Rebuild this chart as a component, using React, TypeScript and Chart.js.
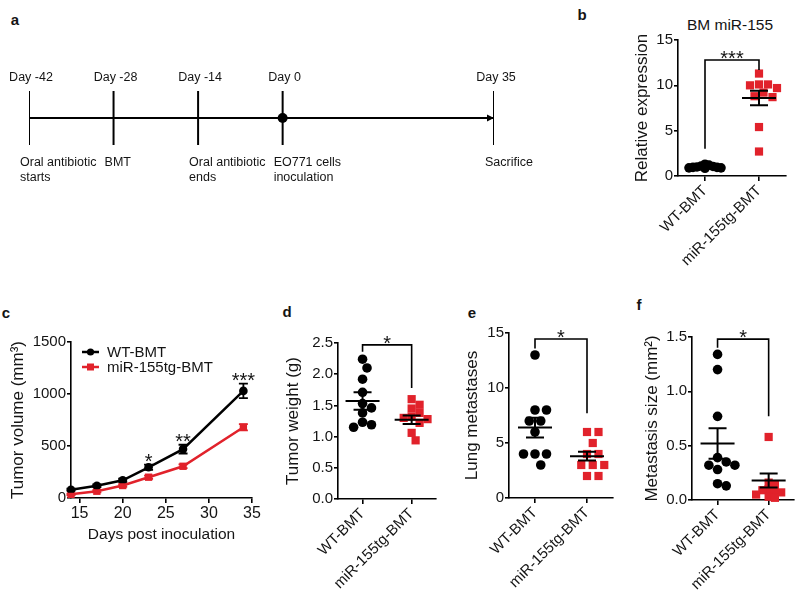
import React, { useEffect, useRef } from 'react';
import { Chart, registerables } from 'chart.js';

Chart.register(...registerables);

const FONT = '"Liberation Sans", Arial, Helvetica, sans-serif';
const RED = '#e1222b';
const INK = '#141414';

// ---------- data ----------
const groups = ['WT-BMT', 'miR-155tg-BMT'];

// panel a: timeline
const timelineDays = [-42, -28, -14, 0, 35];
const timelineTop = ['Day -42', 'Day -28', 'Day -14', 'Day 0', 'Day 35'];
const timelineBottom = [
  ['Oral antibiotic', 'starts'],
  ['BMT'],
  ['Oral antibiotic', 'ends'],
  ['EO771 cells', 'inoculation'],
  ['Sacrifice'],
];
const highlightDay = 0;

// panel b: BM miR-155 relative expression
const bmWT = [0.85, 0.9, 0.95, 1.0, 1.05, 1.1, 1.2, 1.3, 0.9, 0.95];
const bmTG = [11.3, 10.1, 10.1, 10.0, 9.7, 9.2, 8.8, 8.7, 5.4, 2.7];
const bmMean = [1.0, 8.6];
const bmSem = [0.05, 0.8];
const bmBracket = [12.8, 3.0, 11.7];
const bmSig = '***';

// panel c: tumor volume
const days = [14, 17, 20, 23, 27, 34];
const dayTicks = [15, 20, 25, 30, 35];
const volWT = [80, 118, 170, 295, 470, 1030];
const volWTErr = [10, 12, 15, 25, 42, 70];
const volTG = [35, 65, 120, 200, 305, 680];
const volTGErr = [8, 10, 12, 15, 18, 30];
const volSig = ['', '', '', '*', '**', '***'];

// panel d: tumor weight
const twWT = [2.24, 2.1, 1.92, 1.71, 1.53, 1.46, 1.38, 1.23, 1.19, 1.15];
const twTG = [1.6, 1.51, 1.45, 1.38, 1.32, 1.3, 1.28, 1.22, 1.06, 0.94];
const twMean = [1.57, 1.27];
const twSem = [0.14, 0.07];
const twBracket = [2.47, 2.36, 1.78];
const twSig = '*';

// panel e: lung metastases
const lmWT = [13, 8, 8, 7, 7, 6, 4, 4, 4, 3];
const lmTG = [6, 6, 5, 4, 4, 3, 3, 3, 2, 2];
const lmMean = [6.4, 3.8];
const lmSem = [0.9, 0.4];
const lmBracket = [14.45, 13.6, 7.7];
const lmSig = '*';

// panel f: metastasis size
const msWT = [1.34, 1.2, 0.77, 0.39, 0.32, 0.32, 0.35, 0.28, 0.15, 0.13];
const msTG = [0.58, 0.16, 0.14, 0.1, 0.09, 0.08, 0.07, 0.05, 0.03, 0.02];
const msMean = [0.52, 0.18];
const msSem = [0.14, 0.065];
const msBracket = [1.48, 1.4, 0.77];
const msSig = '*';

// ---------- helpers ----------
function swarm(vals: number[], pxPerY: number, pxPerX: number, d: number): number[] {
  const idx = vals.map((_, i) => i).sort((a, b) => vals[b] - vals[a]);
  const placed: [number, number][] = [];
  const out = vals.map(() => 0);
  for (const i of idx) {
    const py = vals[i] * pxPerY;
    for (let k = 0; k < 80; k++) {
      const px = (k % 2 ? 1 : -1) * Math.ceil(k / 2) * d * 0.5;
      if (placed.every(([qx, qy]) => Math.hypot(qx - px, qy - py) >= d)) {
        placed.push([px, py]);
        out[i] = px / pxPerX;
        break;
      }
    }
  }
  return out;
}

type Box = { left: number; top: number; width: number; height: number };

function ChartBox({ box, make }: { box: Box; make: (c: HTMLCanvasElement) => Chart }) {
  const ref = useRef<HTMLCanvasElement>(null);
  useEffect(() => {
    const c = make(ref.current as HTMLCanvasElement);
    return () => c.destroy();
  }, []);
  return (
    <div style={{ position: 'absolute', left: box.left, top: box.top, width: box.width, height: box.height }}>
      <canvas ref={ref} />
    </div>
  );
}

const axisBorder = { display: true, color: '#000', width: 1.6 };

// ---------- panel a ----------
const boxA: Box = { left: 0, top: 48, width: 560, height: 140 };
function makeA(canvas: HTMLCanvasElement) {
  return new Chart(canvas, {
    type: 'scatter',
    data: {
      datasets: [
        {
          type: 'line',
          data: [
            { x: timelineDays[0], y: 0 },
            { x: timelineDays[timelineDays.length - 1], y: 0 },
          ],
          borderColor: '#000',
          borderWidth: 2,
          pointRadius: 0,
        } as any,
        {
          data: timelineDays.map((d) => ({ x: d, y: 0 })),
          pointStyle: 'line',
          rotation: 90,
          pointRadius: 27,
          borderColor: '#000',
          borderWidth: 2,
        } as any,
        {
          data: [{ x: highlightDay, y: 0 }],
          pointStyle: 'circle',
          pointRadius: 5,
          backgroundColor: '#000',
          borderWidth: 0,
        },
      ],
    },
    options: {
      animation: false,
      responsive: true,
      maintainAspectRatio: false,
      layout: { padding: { left: 24, right: 66, top: 0, bottom: 0 } },
      plugins: { legend: { display: false }, tooltip: { enabled: false } },
      scales: {
        x: { type: 'linear', min: timelineDays[0], max: timelineDays[timelineDays.length - 1], display: false },
        y: { min: -1, max: 1, display: false },
      },
    },
    plugins: [
      {
        id: 'timelineText',
        afterDatasetsDraw(chart: any) {
          const ctx = chart.ctx;
          const xs = chart.scales.x;
          const y0 = chart.scales.y.getPixelForValue(0);
          const xe = xs.getPixelForValue(timelineDays[timelineDays.length - 1]);
          ctx.save();
          ctx.fillStyle = '#000';
          ctx.beginPath();
          ctx.moveTo(xe, y0);
          ctx.lineTo(xe - 7, y0 - 3.5);
          ctx.lineTo(xe - 7, y0 + 3.5);
          ctx.closePath();
          ctx.fill();
          ctx.fillStyle = INK;
          ctx.font = `12.5px ${FONT}`;
          ctx.textBaseline = 'middle';
          timelineDays.forEach((d, i) => {
            const x = xs.getPixelForValue(d);
            ctx.textAlign = 'center';
            ctx.fillText(timelineTop[i], x + 2, y0 - 40);
            ctx.textAlign = 'left';
            timelineBottom[i].forEach((line, j) => ctx.fillText(line, x - 9, y0 + 45 + j * 15));
          });
          ctx.restore();
        },
      },
    ],
  } as any);
}

// ---------- dot panels ----------
type DotCfg = {
  L: number; T: number; R: number; B: number;
  bl: number; bt: number; br: number; bb: number;
  yMax: number; step: number; decimals: number; yTitle: string;
  wt: number[]; tg: number[]; mean: number[]; sem: number[];
  bracket: number[]; sig: string; dWT: number; dTG: number;
};

function dotBox(c: DotCfg): Box {
  return { left: c.bl, top: c.bt, width: c.br - c.bl, height: c.bb - c.bt };
}

function makeDot(cfg: DotCfg) {
  return (canvas: HTMLCanvasElement) => {
    const plotW = cfg.R - cfg.L;
    const plotH = cfg.B - cfg.T;
    const pxPerY = plotH / cfg.yMax;
    const pxPerX = plotW / 2;
    const offWT = swarm(cfg.wt, pxPerY, pxPerX, cfg.dWT);
    const offTG = swarm(cfg.tg, pxPerY, pxPerX, cfg.dTG);
    return new Chart(canvas, {
      type: 'scatter',
      data: {
        datasets: [
          {
            data: cfg.wt.map((v, i) => ({ x: 0 + offWT[i], y: v })),
            pointStyle: 'circle',
            pointRadius: 4.8,
            backgroundColor: '#000',
            borderWidth: 0,
            clip: false,
          },
          {
            data: cfg.tg.map((v, i) => ({ x: 1 + offTG[i], y: v })),
            pointStyle: 'rect',
            pointRadius: 5.8,
            backgroundColor: RED,
            borderWidth: 0,
            clip: false,
          },
        ],
      },
      options: {
        animation: false,
        responsive: true,
        maintainAspectRatio: false,
        layout: { padding: { left: 0, top: cfg.T - cfg.bt, right: cfg.br - cfg.R, bottom: 0 } },
        plugins: { legend: { display: false }, tooltip: { enabled: false } },
        scales: {
          x: {
            type: 'linear',
            min: -0.5,
            max: 1.5,
            afterBuildTicks: (a: any) => {
              a.ticks = groups.map((_, i) => ({ value: i }));
            },
            afterFit: (s: any) => {
              s.height = cfg.bb - cfg.B;
            },
            ticks: {
              autoSkip: false,
              minRotation: 45,
              maxRotation: 45,
              padding: 1,
              color: INK,
              font: { family: FONT, size: 15 },
              callback: (_v: any, i: number) => groups[i],
            },
            grid: { display: true, drawOnChartArea: false, drawTicks: true, tickLength: 5, color: '#000', lineWidth: 1.6 },
            border: axisBorder,
          },
          y: {
            min: 0,
            max: cfg.yMax,
            afterFit: (s: any) => {
              s.width = cfg.L - cfg.bl;
            },
            ticks: {
              stepSize: cfg.step,
              padding: 1,
              color: INK,
              font: { family: FONT, size: 15 },
              callback: (v: any) => Number(v).toFixed(cfg.decimals),
            },
            title: { display: true, text: cfg.yTitle, color: INK, font: { family: FONT, size: 17 }, padding: 0 },
            grid: { display: true, drawOnChartArea: false, drawTicks: true, tickLength: 4, color: '#000', lineWidth: 1.6 },
            border: axisBorder,
          },
        },
      },
      plugins: [
        {
          id: 'stats',
          afterDatasetsDraw(chart: any) {
            const ctx = chart.ctx;
            const xs = chart.scales.x;
            const ys = chart.scales.y;
            ctx.save();
            ctx.strokeStyle = '#000';
            ctx.lineWidth = 2;
            for (let g = 0; g < 2; g++) {
              const cx = xs.getPixelForValue(g);
              const my = ys.getPixelForValue(cfg.mean[g]);
              const ty = ys.getPixelForValue(cfg.mean[g] + cfg.sem[g]);
              const by = ys.getPixelForValue(cfg.mean[g] - cfg.sem[g]);
              ctx.beginPath();
              ctx.moveTo(cx - 17, my);
              ctx.lineTo(cx + 17, my);
              ctx.moveTo(cx, ty);
              ctx.lineTo(cx, by);
              ctx.moveTo(cx - 9, ty);
              ctx.lineTo(cx + 9, ty);
              ctx.moveTo(cx - 9, by);
              ctx.lineTo(cx + 9, by);
              ctx.stroke();
            }
            const x0 = xs.getPixelForValue(0);
            const x1 = xs.getPixelForValue(1);
            const yt = ys.getPixelForValue(cfg.bracket[0]);
            ctx.lineWidth = 1.6;
            ctx.beginPath();
            ctx.moveTo(x0, ys.getPixelForValue(cfg.bracket[1]));
            ctx.lineTo(x0, yt);
            ctx.lineTo(x1, yt);
            ctx.lineTo(x1, ys.getPixelForValue(cfg.bracket[2]));
            ctx.stroke();
            ctx.fillStyle = INK;
            ctx.font = `20px ${FONT}`;
            ctx.textAlign = 'center';
            ctx.textBaseline = 'alphabetic';
            ctx.fillText(cfg.sig, (x0 + x1) / 2, yt + 5);
            ctx.restore();
          },
        },
      ],
    } as any);
  };
}

const cfgB: DotCfg = {
  L: 678, T: 40, R: 786, B: 176, bl: 632, bt: 0, br: 800, bb: 280,
  yMax: 15, step: 5, decimals: 0, yTitle: 'Relative expression',
  wt: bmWT, tg: bmTG, mean: bmMean, sem: bmSem, bracket: bmBracket, sig: bmSig, dWT: 4, dTG: 9,
};
const cfgD: DotCfg = {
  L: 338, T: 343, R: 437, B: 499, bl: 283, bt: 290, br: 442, bb: 598,
  yMax: 2.5, step: 0.5, decimals: 1, yTitle: 'Tumor weight (g)',
  wt: twWT, tg: twTG, mean: twMean, sem: twSem, bracket: twBracket, sig: twSig, dWT: 9, dTG: 8,
};
const cfgE: DotCfg = {
  L: 509, T: 333, R: 613, B: 498, bl: 462, bt: 290, br: 620, bb: 598,
  yMax: 15, step: 5, decimals: 0, yTitle: 'Lung metastases',
  wt: lmWT, tg: lmTG, mean: lmMean, sem: lmSem, bracket: lmBracket, sig: lmSig, dWT: 11.5, dTG: 11.5,
};
const cfgF: DotCfg = {
  L: 692, T: 337, R: 798, B: 500, bl: 642, bt: 290, br: 800, bb: 598,
  yMax: 1.5, step: 0.5, decimals: 1, yTitle: 'Metastasis size (mm²)',
  wt: msWT, tg: msTG, mean: msMean, sem: msSem, bracket: msBracket, sig: msSig, dWT: 9, dTG: 6.5,
};

// ---------- panel c ----------
const cL = 71, cT = 342, cR = 252, cB = 498;
const boxC: Box = { left: 8, top: 290, width: 254, height: 254 };
function makeC(canvas: HTMLCanvasElement) {
  return new Chart(canvas, {
    type: 'line',
    data: {
      datasets: [
        {
          label: groups[0],
          data: days.map((d, i) => ({ x: d, y: volWT[i] })),
          borderColor: '#000',
          backgroundColor: '#000',
          borderWidth: 2.5,
          pointStyle: 'circle',
          pointRadius: 4.3,
          pointBorderWidth: 0,
          tension: 0,
          clip: false,
        },
        {
          label: groups[1],
          data: days.map((d, i) => ({ x: d, y: volTG[i] })),
          borderColor: RED,
          backgroundColor: RED,
          borderWidth: 2.5,
          pointStyle: 'rect',
          pointRadius: 5.2,
          pointBorderWidth: 0,
          tension: 0,
          clip: false,
        },
      ],
    },
    options: {
      animation: false,
      responsive: true,
      maintainAspectRatio: false,
      layout: { padding: { left: 0, top: cT - boxC.top, right: boxC.left + boxC.width - cR, bottom: 0 } },
      plugins: { legend: { display: false }, tooltip: { enabled: false } },
      scales: {
        x: {
          type: 'linear',
          min: 14,
          max: 35,
          afterBuildTicks: (a: any) => {
            a.ticks = dayTicks.map((v) => ({ value: v }));
          },
          afterFit: (s: any) => {
            s.height = boxC.top + boxC.height - cB;
          },
          ticks: { padding: 1, color: INK, font: { family: FONT, size: 16 }, callback: (v: any) => String(v) },
          title: { display: true, text: 'Days post inoculation', color: INK, font: { family: FONT, size: 15.5 }, padding: 0 },
          grid: { display: true, drawOnChartArea: false, drawTicks: true, tickLength: 5, color: '#000', lineWidth: 1.6 },
          border: axisBorder,
        },
        y: {
          min: 0,
          max: 1500,
          afterFit: (s: any) => {
            s.width = cL - boxC.left;
          },
          ticks: { stepSize: 500, padding: 1, color: INK, font: { family: FONT, size: 15 }, callback: (v: any) => String(v) },
          title: { display: true, text: 'Tumor volume (mm³)', color: INK, font: { family: FONT, size: 17 }, padding: 0 },
          grid: { display: true, drawOnChartArea: false, drawTicks: true, tickLength: 4, color: '#000', lineWidth: 1.6 },
          border: axisBorder,
        },
      },
    },
    plugins: [
      {
        id: 'errs',
        afterDatasetsDraw(chart: any) {
          const ctx = chart.ctx;
          const xs = chart.scales.x;
          const ys = chart.scales.y;
          const sets = [
            { v: volWT, e: volWTErr, c: '#000' },
            { v: volTG, e: volTGErr, c: RED },
          ];
          ctx.save();
          ctx.lineWidth = 1.8;
          sets.forEach((s) => {
            ctx.strokeStyle = s.c;
            days.forEach((d, i) => {
              const x = xs.getPixelForValue(d);
              const t = ys.getPixelForValue(s.v[i] + s.e[i]);
              const b = ys.getPixelForValue(s.v[i] - s.e[i]);
              ctx.beginPath();
              ctx.moveTo(x, t);
              ctx.lineTo(x, b);
              ctx.moveTo(x - 4.5, t);
              ctx.lineTo(x + 4.5, t);
              ctx.moveTo(x - 4.5, b);
              ctx.lineTo(x + 4.5, b);
              ctx.stroke();
            });
          });
          ctx.fillStyle = INK;
          ctx.font = `20px ${FONT}`;
          ctx.textAlign = 'center';
          ctx.textBaseline = 'alphabetic';
          days.forEach((d, i) => {
            if (!volSig[i]) return;
            const x = xs.getPixelForValue(d);
            const t = ys.getPixelForValue(volWT[i] + volWTErr[i]);
            ctx.fillText(volSig[i], x, t + 3);
          });
          // legend
          const lx = chart.chartArea.left + 11;
          const items = [
            { c: '#000', style: 'circle' },
            { c: RED, style: 'rect' },
          ];
          ctx.font = `15px ${FONT}`;
          ctx.textAlign = 'left';
          ctx.textBaseline = 'middle';
          items.forEach((it, i) => {
            const y = chart.chartArea.top + 10 + i * 15;
            ctx.strokeStyle = it.c;
            ctx.fillStyle = it.c;
            ctx.lineWidth = 2.5;
            ctx.beginPath();
            ctx.moveTo(lx, y);
            ctx.lineTo(lx + 17, y);
            ctx.stroke();
            if (it.style === 'circle') {
              ctx.beginPath();
              ctx.arc(lx + 8.5, y, 3.6, 0, Math.PI * 2);
              ctx.fill();
            } else {
              ctx.fillRect(lx + 5, y - 3.5, 7, 7);
            }
            ctx.fillStyle = INK;
            ctx.fillText(groups[i], lx + 25, y + 1);
          });
          ctx.restore();
        },
      },
    ],
  } as any);
}

const letters = [
  { t: 'a', x: 15, y: 20 },
  { t: 'b', x: 582, y: 15 },
  { t: 'c', x: 6, y: 313 },
  { t: 'd', x: 287, y: 312 },
  { t: 'e', x: 472, y: 313 },
  { t: 'f', x: 639, y: 305 },
];

export default function App() {
  return (
    <div style={{ position: 'fixed', left: 0, top: 0, width: 800, height: 598, background: '#fff', overflow: 'hidden' }}>
      {letters.map((l) => (
        <div
          key={l.t}
          style={{
            position: 'absolute',
            left: l.x,
            top: l.y,
            transform: 'translate(-50%, -55%)',
            font: `bold 15px ${FONT}`,
            color: INK,
            lineHeight: 1,
          }}
        >
          {l.t}
        </div>
      ))}
      <div
        style={{
          position: 'absolute',
          left: 730,
          top: 25,
          transform: 'translate(-50%, -50%)',
          font: `15.5px ${FONT}`,
          color: INK,
          whiteSpace: 'nowrap',
          lineHeight: 1,
        }}
      >
        BM miR-155
      </div>
      <ChartBox box={boxA} make={makeA} />
      <ChartBox box={dotBox(cfgB)} make={makeDot(cfgB)} />
      <ChartBox box={boxC} make={makeC} />
      <ChartBox box={dotBox(cfgD)} make={makeDot(cfgD)} />
      <ChartBox box={dotBox(cfgE)} make={makeDot(cfgE)} />
      <ChartBox box={dotBox(cfgF)} make={makeDot(cfgF)} />
    </div>
  );
}
